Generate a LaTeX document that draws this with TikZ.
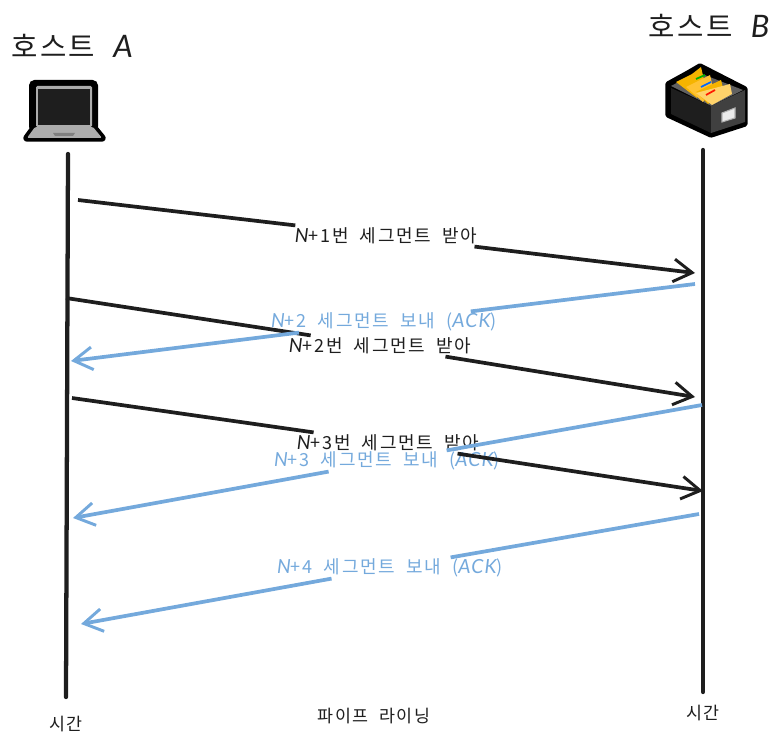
\documentclass[tikz,border=0pt]{standalone}
\usepackage{fontspec}
\setmainfont[LetterSpace=9,WordSpace=2.0]{Noto Sans CJK KR}
\newfontfamily\handfont[LetterSpace=6,Scale=1.08]{Lato}
\usepackage{xcolor}
\usetikzlibrary{arrows.meta,positioning,calc}
\definecolor{inkdark}{HTML}{1E1E1E}
\definecolor{ackblue}{HTML}{74A9DC}
\definecolor{folderback}{HTML}{F5B400}
\definecolor{foldermid}{HTML}{FFC233}
\definecolor{folderfront}{HTML}{FFD36B}
\tikzset{
	lifeline/.style={inkdark, line width=3.2pt, line cap=round},
	segline/.style={inkdark, line width=2.8pt},
	ackline/.style={ackblue, line width=2.8pt},
	tipped/.style={-{Straight Barb[length=14pt,width=17pt,line width=2.2pt]}},
	seglabel/.style={inner sep=0pt, minimum height=15.5pt, font=\fontsize{13.5}{15}\selectfont, text=inkdark},
	acklabel/.style={seglabel, text=ackblue},
	hosttitle/.style={inner sep=0pt, font=\fontsize{21.5}{25}\selectfont, text=inkdark},
	smalllabel/.style={inner sep=0pt, font=\fontsize{13}{15}\selectfont, text=inkdark}
}
\newcommand{\hand}[1]{{\handfont\itshape #1}}
\begin{document}
\begin{tikzpicture}[x=0.75pt, y=-0.75pt]
	\useasboundingbox (0,0) rectangle (778,748);
	
	%% -- Host titles
	\node[hosttitle] (hosta) at (72,46) {호스트 \hand{A}};
	\node[hosttitle] (hostb) at (709,26) {호스트 \hand{B}};
	
	%% -- Laptop icon
	\path[fill=black, rounded corners=4pt] (29,80) rectangle (98,132);
	\path[fill=black, draw=black, line width=5.5pt, line join=round] (27,138) -- (35,127) -- (93,127) -- (102,138) -- cycle;
	\path[fill=gray!65, rounded corners=1pt] (36,86) rectangle (92,127);
	\path[fill=inkdark] (38,89) rectangle (90,125);
	\path[fill=gray!65, rounded corners=1pt] (27,138) -- (35,127) -- (93,127) -- (102,138) -- cycle;
	\path[fill=gray] (53,133) -- (75,133) -- (73,136) -- (55,136) -- cycle;
	
	%% -- File cabinet icon
	\path[fill=black, draw=black, line width=4pt, line join=round]
	(668,84) -- (688,73) -- (700,66) -- (745,89) -- (745,124) -- (711,135) -- (668,115) -- cycle;
	\path[fill=gray!75!black] (671,86) -- (697,72) -- (743,90) -- (711,106) -- cycle;
	\path[fill=inkdark] (671,88) -- (711,106) -- (711,133) -- (671,114) -- cycle;
	\path[fill=black!75] (711,106) -- (745,90) -- (745,122) -- (711,133) -- cycle;
	\path[fill=folderback] (676,82) -- (692,74) -- (701,67) -- (704,80) -- (697,98) -- cycle;
	\path[fill=foldermid] (686,87) -- (710,75) -- (713,88) -- (703,102) -- cycle;
	\path[fill=folderback] (696,92) -- (721,80) -- (724,92) -- (708,104) -- cycle;
	\path[fill=folderfront] (696,93) -- (730,84) -- (732,94) -- (712,105) -- cycle;
	\draw[green!70!black, line width=1.3pt] (696,79) -- (705,75);
	\draw[blue!60!cyan, line width=1.3pt] (701,87) -- (711,82);
	\draw[red!80!orange, line width=1.3pt] (706,95) -- (715,90);
	\path[fill=white!85!gray, draw=gray!60, line width=0.8pt] (722,113) -- (735,108) -- (735,118) -- (722,122) -- cycle;
	
	%% -- Lifelines
	\coordinate (atop) at (68,154);
	\coordinate (abot) at (66,697);
	\coordinate (btop) at (703,150);
	\coordinate (bbot) at (703,692);
	\draw[lifeline] (atop) -- (abot);
	\draw[lifeline] (btop) -- (bbot);
	
	%% -- Arrow ends
	\coordinate (s1) at (78,200);   \coordinate (e1) at (695,273);
	\coordinate (k1) at (695,284);  \coordinate (f1) at (71,361);
	\coordinate (s2) at (66,298);   \coordinate (e2) at (695,397);
	\coordinate (k2) at (702,405);  \coordinate (f2) at (73,518);
	\coordinate (s3) at (72,398);   \coordinate (e3) at (703,491);
	\coordinate (k3) at (699,514);  \coordinate (f3) at (81,624);
	
	%% -- Segment and ACK labels
	\node[seglabel] (seg1) at (386,236) {\hand{N}+1번 세그먼트 받아};
	\node[acklabel] (ack1) at (384,322) {\hand{N}+2 세그먼트 보내 (\hand{ACK})};
	\node[seglabel] (seg2) at (380,346) {\hand{N}+2번 세그먼트 받아};
	\node[seglabel] (seg3) at (388,443) {\hand{N}+3번 세그먼트 받아};
	\node[acklabel] (ack2) at (387,461) {\hand{N}+3 세그먼트 보내 (\hand{ACK})};
	\node[acklabel] (ack3) at (390,568) {\hand{N}+4 세그먼트 보내 (\hand{ACK})};
	
	%% -- Host A to host B
	\draw[segline] (s1) -- (seg1);
	\draw[segline, tipped] (seg1) -- (e1);
	\draw[segline] (s2) -- (seg2);
	\draw[segline, tipped] (seg2) -- (e2);
	\draw[segline] (s3) -- (seg3);
	\draw[segline, tipped] (seg3) -- (e3);
	
	%% -- Host B to host A
	\draw[ackline] (k1) -- (ack1);
	\draw[ackline, tipped] (ack1) -- (f1);
	\draw[ackline] (k2) -- (ack2);
	\draw[ackline, tipped] (ack2) -- (f2);
	\draw[ackline] (k3) -- (ack3);
	\draw[ackline, tipped] (ack3) -- (f3);
	
	%% -- Bottom labels
	\node[smalllabel] (timea) at (66,724) {시간};
	\node[smalllabel] (timeb) at (703,713) {시간};
	\node[smalllabel] (pipe) at (374,716) {파이프 라이닝};
	
\end{tikzpicture}
\end{document}
